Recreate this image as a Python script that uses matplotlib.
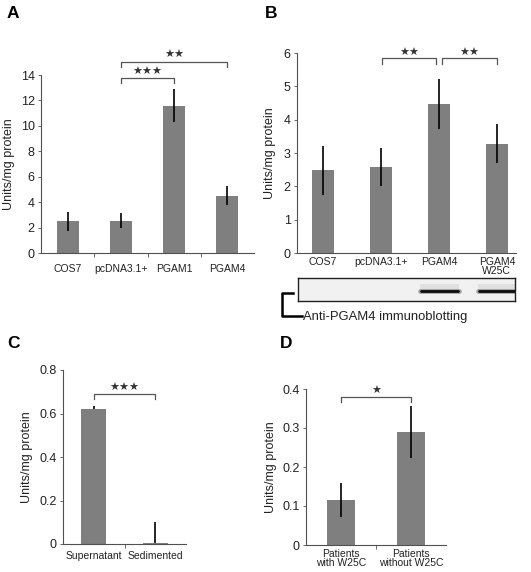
import matplotlib
matplotlib.use("Agg")
import matplotlib.pyplot as plt
import numpy as np

plt.rcParams['font.family'] = ['Liberation Sans', 'DejaVu Sans']

W, H = 531, 572

# panel A
a_labels = ["COS7", "pcDNA3.1+", "PGAM1", "PGAM4"]
a_vals = [2.5, 2.55, 11.6, 4.5]
a_err = [0.75, 0.6, 1.3, 0.75]

# panel B
b_labels = ["COS7", "pcDNA3.1+", "PGAM4", "PGAM4\nW25C"]
b_vals = [2.48, 2.57, 4.48, 3.28]
b_err = [0.74, 0.57, 0.75, 0.59]
blot_bands = [0, 0, 1, 1]

# panel C
c_labels = ["Supernatant", "Sedimented"]
c_vals = [0.62, 0.005]
c_err_lo = [0.0, 0.0]
c_err_hi = [0.015, 0.095]

# panel D
d_labels = ["Patients\nwith W25C", "Patients\nwithout W25C"]
d_vals = [0.115, 0.29]
d_err = [0.043, 0.067]

BAR = "#7f7f7f"
SPINE = "#505050"
TXT = "#222222"

fig = plt.figure(figsize=(W / 100, H / 100), dpi=100)


def px_axes(l, t, r, b):
    return fig.add_axes([l / W, 1 - b / H, (r - l) / W, (b - t) / H])


def style_axes(ax, n, ylim, yticks, ytl, xlim=None, xpad=6, boundary_ticks=True):
    for s in ["top", "right"]:
        ax.spines[s].set_visible(False)
    for s in ["left", "bottom"]:
        ax.spines[s].set_color(SPINE)
        ax.spines[s].set_linewidth(0.8)
    ax.set_ylim(*ylim)
    ax.set_xlim(*(xlim if xlim else (-0.5, n - 0.5)))
    ax.set_yticks(yticks)
    ax.set_yticklabels(ytl, fontsize=9, color=TXT)
    ax.tick_params(axis="y", length=2.5, width=0.6, pad=2, colors=SPINE, labelcolor=TXT)
    ax.tick_params(axis="x", length=0, pad=xpad, labelsize=7.5, labelcolor=TXT)
    if boundary_ticks:
        ax.set_xticks(np.arange(n - 1) + 0.5, minor=True)
        ax.tick_params(axis="x", which="minor", length=3, width=0.6, colors=SPINE)


def bracket(ax, x0, x1, ytop, ydrop, stars, sty):
    ax.plot([x0, x0, x1, x1], [ydrop, ytop, ytop, ydrop], color="#555555",
            lw=0.9, clip_on=False)
    ax.text((x0 + x1) / 2, sty, stars, ha="center", va="center", fontsize=8,
            color="#333333", family="DejaVu Sans", clip_on=False)


def ylabel(ax, xpx, l, r):
    # xpx = right edge of the rotated label, in figure pixels
    ax.set_ylabel("Units/mg protein", fontsize=9, color=TXT)
    ax.yaxis.set_label_coords((xpx - l) / (r - l), 0.5)


# ---- A
ax = px_axes(41, 75, 254, 253)
x = np.arange(len(a_vals))
ax.bar(x, a_vals, width=0.41, color=BAR)
ax.errorbar(x, a_vals, yerr=a_err, fmt="none", ecolor="black", elinewidth=1.2)
style_axes(ax, 4, (0, 14), range(0, 15, 2), [str(v) for v in range(0, 15, 2)], xpad=8)
ax.set_xticks(x)
ax.set_xticklabels(a_labels)
bracket(ax, 1, 2, 13.78, 13.4, "★★★", 14.25)
bracket(ax, 1, 3, 15.0, 14.6, "★★", 15.55)
ylabel(ax, 15, 41, 254)

# ---- B
bx = px_axes(297, 53, 516, 253)
x = np.arange(len(b_vals))
bxlim = (-0.45, 3.33)
bx.bar(x, b_vals, width=0.39, color=BAR)
bx.errorbar(x, b_vals, yerr=b_err, fmt="none", ecolor="black", elinewidth=1.2)
style_axes(bx, 4, (0, 6), range(0, 7), [str(v) for v in range(0, 7)], xlim=bxlim,
           xpad=3, boundary_ticks=False)
bx.set_xticks(x)
bx.set_xticklabels(b_labels, linespacing=0.85)
bracket(bx, 1.02, 1.95, 5.85, 5.67, "★★", 6.0)
bracket(bx, 2.05, 3.0, 5.85, 5.67, "★★", 6.0)
ylabel(bx, 276, 297, 516)

# blot
wb = px_axes(298, 278, 515, 301)
wb.set_xlim(bxlim[0] + 1 / 58, bxlim[1] - 1 / 58)
wb.set_ylim(0, 1)
wb.set_facecolor("#f1f1f1")
for s in wb.spines.values():
    s.set_linewidth(1.0)
    s.set_color("#202020")
wb.set_xticks([])
wb.set_yticks([])
for i, v in enumerate(blot_bands):
    if v:
        wb.fill_between([i - 0.33, i + 0.35], 0.45, 0.75, color="#e0e0e0", lw=0)
        wb.plot([i - 0.33, i + 0.35], [0.45, 0.45], color="#555555", lw=3.4,
                solid_capstyle="round", alpha=0.5)
        wb.plot([i - 0.31, i + 0.33], [0.43, 0.43], color="#0c0c0c", lw=2.0,
                solid_capstyle="round")
fig.add_artist(plt.Line2D([293 / W, 282 / W, 282 / W, 302 / W],
                          [1 - 293 / H, 1 - 293 / H, 1 - 316 / H, 1 - 316 / H],
                          color="black", lw=1.8))
fig.text(303 / W, 1 - 317 / H, "Anti-PGAM4 immunoblotting", fontsize=9.4,
         color=TXT, va="center", ha="left")

# ---- C
cx = px_axes(63, 370, 186, 544)
x = np.arange(len(c_vals))
cx.bar(x, c_vals, width=0.41, color=BAR)
cx.errorbar(x, c_vals, yerr=[c_err_lo, c_err_hi], fmt="none", ecolor="black",
            elinewidth=1.2)
style_axes(cx, 2, (0, 0.8), [0, 0.2, 0.4, 0.6, 0.8], ["0", "0.2", "0.4", "0.6", "0.8"],
           xpad=5)
cx.set_xticks(x)
cx.set_xticklabels(c_labels)
bracket(cx, 0, 1, 0.69, 0.667, "★★★", 0.718)
ylabel(cx, 33, 63, 186)

# ---- D
dx = px_axes(306, 389, 446, 545)
x = np.arange(len(d_vals))
dx.bar(x, d_vals, width=0.4, color=BAR)
dx.errorbar(x, d_vals, yerr=d_err, fmt="none", ecolor="black", elinewidth=1.2)
style_axes(dx, 2, (0, 0.4), [0, 0.1, 0.2, 0.3, 0.4], ["0", "0.1", "0.2", "0.3", "0.4"],
           xpad=3)
dx.set_xticks(x)
dx.set_xticklabels(d_labels, linespacing=0.85)
bracket(dx, 0, 1, 0.38, 0.367, "★", 0.395)
ylabel(dx, 277, 306, 446)

# panel letters
for lab, px, py in [("A", 7, 13), ("B", 265, 13), ("C", 7, 343), ("D", 280, 343)]:
    fig.text(px / W, 1 - py / H, lab, fontsize=12.5, fontweight="bold",
             va="center", ha="left", color="black")

fig.savefig("out.png", dpi=100)
